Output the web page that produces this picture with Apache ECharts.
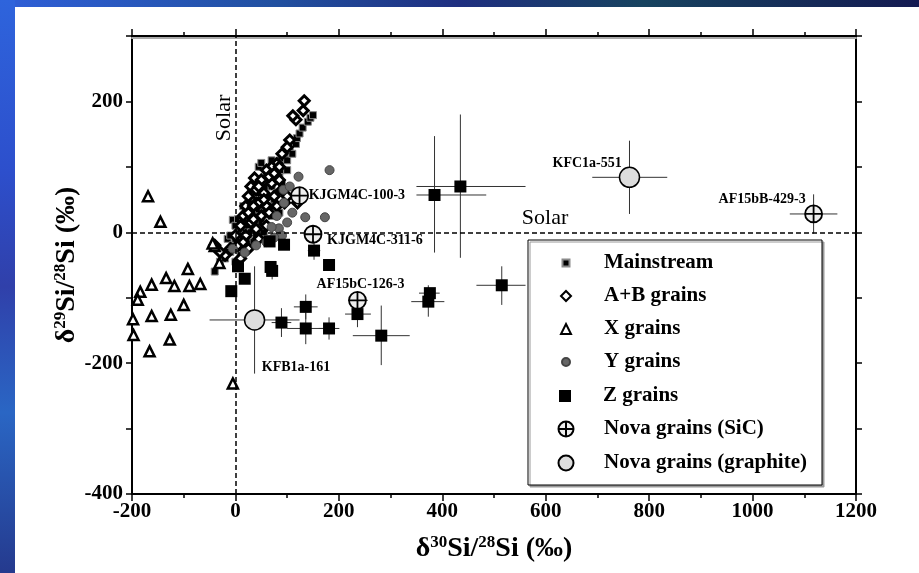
<!DOCTYPE html>
<html><head><meta charset="utf-8">
<script src="https://cdn.jsdelivr.net/npm/echarts@6/dist/echarts.min.js"></script>
<style>html,body{margin:0;padding:0;background:#fff}#c{width:919px;height:573px}</style>
</head><body><div id="c"></div>
<script>
// ---- data (δ30Si, δ29Si) in permil ----
const mainstream = [[-40,-60],[-30,-45],[-20,-40],[-15,-10],[-10,-30],[-10,-5],[-5,-20],[-5,19],[0,-10],[0,-45],[0,10],[5,0],[5,-25],[5,20],[10,5],[10,-15],[10,-35],[15,15],[15,-5],[15,40],[20,25],[20,0],[20,-20],[25,10],[25,35],[25,-10],[30,20],[30,0],[30,45],[30,60],[35,30],[35,10],[35,-15],[35,55],[40,50],[40,20],[40,-5],[40,80],[45,35],[45,60],[45,100],[45,20],[50,45],[50,15],[50,106],[50,65],[55,70],[55,30],[55,0],[55,45],[60,55],[60,85],[60,10],[60,70],[65,40],[65,95],[65,-10],[70,70],[70,25],[70,110],[70,40],[75,85],[75,50],[78,100],[80,60],[80,80],[82,106],[85,90],[85,30],[89,111],[90,75],[90,95],[95,113],[95,60],[100,95],[100,110],[105,126],[110,120],[117,135],[119,144],[124,151],[130,160],[140,169],[145,175],[150,179]];
const abGrains = [[133,201],[131,186],[117,172],[111,178],[105,141],[100,130],[90,120],[80,105],[70,100],[60,95],[37,83],[50,80],[30,70],[40,65],[25,55],[55,60],[70,75],[85,80],[45,45],[20,40],[35,40],[15,25],[60,40],[75,55],[90,65],[10,10],[30,15],[50,25],[65,30],[80,40],[95,45],[0,-5],[20,-5],[40,5],[5,-20],[25,-25],[-10,-25],[-40,-20],[-20,-35],[10,-40],[60,10],[45,-10],[-30,-30],[100,55],[120,45],[15,-15],[35,20],[55,50],[65,85],[75,90],[85,100],[25,30],[45,70]];
const xGrains = [[-169,55],[-145,16],[-40,-21],[-44,-17],[-31,-47],[-92,-56],[-162,-80],[-134,-70],[-118,-82],[-89,-82],[-68,-79],[-184,-91],[-189,-103],[-100,-111],[-198,-133],[-162,-128],[-125,-126],[-197,-157],[-127,-164],[-166,-182],[-5,-231]];
const yGrains = [[182,95],[122,85],[135,23],[173,23],[94,45],[93,65],[84,6],[70,8],[90,-5],[100,15],[18,-31],[40,-20],[60,-15],[75,-8],[110,30],[80,25],[-5,-25],[105,70]];
const zGrains = [[385,57],[435,70],[515,-81],[376,-93],[373,-106],[282,-158],[236,-125],[89,-138],[136,-114],[136,-147],[181,-147],[152,-28],[181,-50],[71,-59],[68,-53],[66,-14],[94,-19],[18,-71],[-8,-90],[5,-52]];
const novaSiC = [[124,56],[150,-3],[236,-104],[1118,28]];
const novaSiCNames = ['KJGM4C-100-3','KJGM4C-311-6','AF15bC-126-3','AF15bB-429-3'];
const novaGraphite = [[762,84],[37,-134]];
const novaGraphiteNames = ['KFC1a-551','KFB1a-161'];
// error bars: [x, y, xLow, xHigh, yLow, yHigh]
const errorBars = [
  [385,57,350,485,-31,147],[435,70,350,561,-39,180],[515,-81,466,561,-111,-52],
  [376,-93,355,395,-100,-86],[373,-106,340,404,-129,-81],[282,-158,227,337,-203,-112],
  [236,-125,212,262,-145,-100],[89,-138,70,108,-160,-116],[136,-114,113,159,-133,-95],
  [136,-147,100,170,-171,-123],[181,-147,161,201,-164,-130],[152,-28,140,164,-42,-14],
  [71,-59,66,76,-72,-45],
  [150,-3,140,160,-15,10],[236,-104,218,256,-118,-90],[1118,28,1072,1164,-2,58],
  [762,84,690,835,28,140],[37,-134,-50,124,-216,-52]
];
const legendNames = ['Mainstream','A+B grains','X grains','Y grains','Z grains','Nova grains (SiC)','Nova grains (graphite)'];

const F = 'Liberation Serif, Times New Roman, serif';
const chart = echarts.init(document.getElementById('c'));

const sicLabelPos = [[18.5,9.5,'left'],[23.5,15.5,'left'],[-31.5,-6.5,'left'],[1.5,-5.5,'right']];
const grLabelPos = [[3,-3,'right'],[18,58,'left']];
function labelled(pts, names, pos) {
  return pts.map((p, i) => ({
    value: p, name: names[i],
    label: {show: true, formatter: names[i], position: [pos[i][0], pos[i][1]], align: pos[i][2], verticalAlign: 'middle',
      fontFamily: F, fontWeight: 'bold', fontSize: 14, color: '#000'}
  }));
}

function renderErr(params, api) {
  const x = api.value(0), y = api.value(1);
  const pL = api.coord([api.value(2), y]), pR = api.coord([api.value(3), y]);
  const pB = api.coord([x, api.value(4)]), pT = api.coord([x, api.value(5)]);
  const style = {stroke: '#333', lineWidth: 1};
  return {type: 'group', children: [
    {type: 'line', shape: {x1: pL[0], y1: pL[1], x2: pR[0], y2: pR[1]}, style},
    {type: 'line', shape: {x1: pB[0], y1: pB[1], x2: pT[0], y2: pT[1]}, style}
  ]};
}

const sicPath = 'path://M0,10A10,10,0,1,1,20,10A10,10,0,1,1,0,10ZM10,0L10,20M0,10L20,10';
const diamondPath = 'path://M5,0L10,5L5,10L0,5Z';
const legendCenters = [263, 296, 329, 362, 396, 429, 463];
const legendIcon = [7, 10, 10, 8, 12, 15, 15];

const axisName = (a, b) => `{m|δ}{s|${a}}{m|Si/}{s|${b}}{m|Si (‰)}`;
const nameRich = {
  m: {fontFamily: F, fontWeight: 'bold', fontSize: 28, lineHeight: 30, color: '#000'},
  s: {fontFamily: F, fontWeight: 'bold', fontSize: 17, lineHeight: 18, verticalAlign: 'top', color: '#000'}
};
const tickLabel = {fontFamily: F, fontWeight: 'bold', fontSize: 21, color: '#000', formatter: v => String(v)};
const axLine = {show: true, onZero: false, lineStyle: {color: '#000', width: 2}};

chart.setOption({
  animation: false,
  backgroundColor: '#fff',
  graphic: [
    {type: 'rect', z: -10, shape: {x: 0, y: 0, width: 919, height: 7}, style: {fill: new echarts.graphic.LinearGradient(0,0,1,0,[
      {offset: 0, color: '#2f5fd8'},{offset: 0.3, color: '#2150a0'},{offset: 0.5, color: '#1f2f80'},{offset: 0.7, color: '#17435f'},{offset: 1, color: '#141a52'}])}},
    {type: 'rect', z: -10, shape: {x: 0, y: 0, width: 15, height: 573}, style: {fill: new echarts.graphic.LinearGradient(0,0,0,1,[
      {offset: 0, color: '#2e64dc'},{offset: 0.3, color: '#2d4fcc'},{offset: 0.5, color: '#3040aa'},{offset: 0.72, color: '#2a66c4'},{offset: 1, color: '#253a8e'}])}},
    {type: 'rect', z: 5, shape: {x: 528, y: 240, width: 294, height: 245},
      style: {fill: '#fff', stroke: '#000', lineWidth: 1, shadowColor: '#9a9a9a', shadowOffsetX: 2, shadowOffsetY: 2, shadowBlur: 0}},
    {type: 'text', x: 224, y: 118, rotation: Math.PI / 2, z: 10,
      style: {text: 'Solar', fontFamily: F, fontSize: 22, fill: '#000', align: 'center', verticalAlign: 'middle'}},
    {type: 'text', x: 545, y: 218, z: 10,
      style: {text: 'Solar', fontFamily: F, fontSize: 22, fill: '#000', align: 'center', verticalAlign: 'middle'}}
  ],
  legend: legendNames.map((n, i) => {
    const s = legendIcon[i];
    return {
      data: [n], left: 565 - s / 2, top: legendCenters[i] - 12, orient: 'vertical', padding: 0, z: 20,
      itemWidth: s, itemHeight: s, itemGap: 0, selectedMode: false,
      textStyle: {fontFamily: F, fontWeight: 'bold', fontSize: 21, lineHeight: 24, color: '#000',
        padding: [0, 0, 0, 603 - (565 + s / 2 + 5)]}
    };
  }),
  grid: {left: 132, right: 63, top: 36, bottom: 79},
  xAxis: [
    {type: 'value', min: -200, max: 1200, interval: 200, position: 'bottom',
      axisLine: axLine, axisTick: {show: true, length: 7, lineStyle: {color: '#000', width: 1.5}},
      minorTick: {show: true, splitNumber: 2, length: 4, lineStyle: {color: '#000', width: 1.5}},
      axisLabel: Object.assign({margin: 7}, tickLabel), splitLine: {show: false},
      name: axisName('30', '28'), nameLocation: 'middle', nameGap: 40, nameTextStyle: {rich: nameRich}},
    {type: 'value', min: -200, max: 1200, interval: 200, position: 'top',
      axisLine: {show: true, onZero: false, lineStyle: {color: '#000', width: 2, shadowColor: '#aaa', shadowOffsetY: 2}},
      axisTick: {show: true, length: 7, lineStyle: {color: '#000', width: 1.5}},
      minorTick: {show: true, splitNumber: 2, length: 4, lineStyle: {color: '#000', width: 1.5}},
      axisLabel: {show: false}, splitLine: {show: false}}
  ],
  yAxis: [
    {type: 'value', min: -400, max: 300, interval: 100, position: 'left',
      axisLine: axLine, axisTick: {show: true, length: 6, lineStyle: {color: '#000', width: 1.5}},
      axisLabel: Object.assign({}, tickLabel, {margin: 9, formatter: v => (v % 200 === 0 ? String(v) : '')}),
      splitLine: {show: false},
      name: axisName('29', '28'), nameLocation: 'middle', nameGap: 50, nameMoveOverlap: false, nameTextStyle: {rich: nameRich}},
    {type: 'value', min: -400, max: 300, interval: 100, position: 'right',
      axisLine: axLine, axisTick: {show: true, length: 6, lineStyle: {color: '#000', width: 1.5}},
      axisLabel: {show: false}, splitLine: {show: false}}
  ],
  series: [
    {type: 'line', data: [], silent: true, markLine: {silent: true, symbol: 'none', label: {show: false},
      lineStyle: {color: '#000', type: [5, 3], width: 1.5},
      data: [{xAxis: 0}, {yAxis: 0}]}},
    {type: 'custom', name: 'err', renderItem: renderErr, data: errorBars, z: 2, silent: true,
      encode: {x: [0, 2, 3], y: [1, 4, 5]}, clip: false},
    {type: 'scatter', name: 'Mainstream', data: mainstream, symbol: 'rect', symbolSize: 7, z: 3, clip: false,
      itemStyle: {color: '#000', borderColor: '#8a8a8a', borderWidth: 1, opacity: 1}},
    {type: 'scatter', name: 'A+B grains', data: abGrains, symbol: diamondPath, symbolSize: 10, z: 4, clip: false,
      itemStyle: {color: '#fff', borderColor: '#000', borderWidth: 3, opacity: 1}},
    {type: 'scatter', name: 'X grains', data: xGrains, symbol: 'triangle', symbolSize: 10, z: 4, clip: false,
      itemStyle: {color: '#fff', borderColor: '#000', borderWidth: 2.5, opacity: 1}},
    {type: 'scatter', name: 'Y grains', data: yGrains, symbol: 'circle', symbolSize: 9, z: 4, clip: false,
      itemStyle: {color: '#666', borderColor: '#444', borderWidth: 1, opacity: 1}},
    {type: 'scatter', name: 'Z grains', data: zGrains, symbol: 'rect', symbolSize: 12, z: 5, clip: false,
      itemStyle: {color: '#000', opacity: 1}},
    {type: 'scatter', name: 'Nova grains (SiC)', data: labelled(novaSiC, novaSiCNames, sicLabelPos), symbol: sicPath, symbolSize: 17, z: 6, clip: false,
      itemStyle: {color: '#eee', borderColor: '#000', borderWidth: 1.8, opacity: 1}},
    {type: 'scatter', name: 'Nova grains (graphite)', data: labelled(novaGraphite, novaGraphiteNames, grLabelPos), symbol: 'circle', symbolSize: 20, z: 6, clip: false,
      itemStyle: {color: '#ddd', borderColor: '#000', borderWidth: 1.5, opacity: 1}}
  ]
});
</script></body></html>
